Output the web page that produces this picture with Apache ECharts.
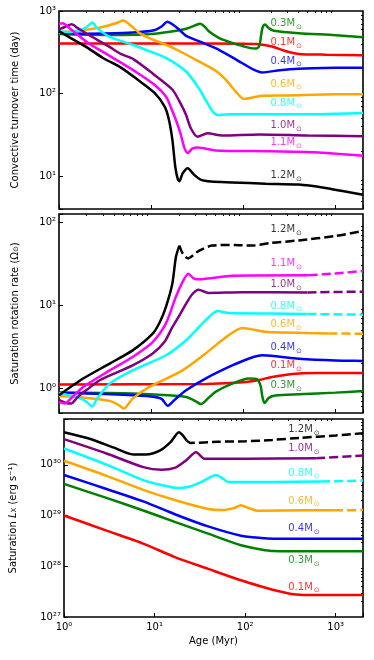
<!DOCTYPE html>
<html lang="en">
<head>
<meta charset="UTF-8">
<title>Saturation</title>
<script src="https://cdn.jsdelivr.net/npm/echarts@6/dist/echarts.min.js"></script>
</head>
<body style="margin:0">
<div id="main" style="width:374px;height:660px;"></div>
<script type="text/javascript">

// masses, in the order of the arrays below
const masses = ['0.1', '0.3', '0.4', '0.6', '0.8', '1.0', '1.1', '1.2'];
const colors = ['#ff0000', '#008000', '#0000ff', '#ffa500', '#00ffff', '#800080', '#ff00ff', '#000000'];

// top panel: convective turnover time (day) vs age (Myr)
const tau01 = [[1,405],[20,405],[100,402],[140,398],[200,375],[280,330],[400,302],[800,296],[2000,292]];
const tau03 = [[1,525],[2,515],[5,512],[10,525],[16,560],[24,610],[30,670],[34,700],[38,650],[43,560],[55,470],[76,410],[100,375],[120,355],[140,352],[150,380],[157,520],[163,640],[172,685],[190,620],[215,575],[400,537],[1000,510],[2000,481]];
const tau04 = [[1,545],[2,530],[5,540],[8,560],[11,590],[13,650],[15,740],[17,690],[20,600],[24,500],[35,420],[50,355],[70,290],[98,233],[130,195],[161,180],[250,192],[400,200],[1000,205],[2000,206]];
const tau06 = [[1,550],[2.16,600],[3.27,658],[4.3,720],[5,765],[5.7,700],[7.5,540],[10,460],[14.5,390],[20,330],[33,245],[50,190],[65,147],[83,106],[102,86],[130,90],[161,94],[300,95],[1000,98],[2000,98]];
const tau08 = [[1,565],[1.4,555],[1.7,585],[2,640],[2.3,725],[2.6,620],[3.5,490],[6.3,390],[10,320],[14.5,270],[24,185],[33,116],[39,84],[46,62],[53,55],[70,56],[150,56],[400,56],[1000,57],[2000,58]];
const tau10 = [[1,600],[1.2,650],[1.37,690],[1.6,620],[2,530],[3.5,370],[4.75,300],[6.3,265],[10.4,175],[17,112],[21,75],[24,55],[27,38],[32,30],[41,33],[60,31],[150,32],[500,31],[2000,30.5]];
const tau11 = [[1,700],[1.1,710],[1.3,620],[2.07,410],[3,320],[4.75,235],[7,180],[10.9,128],[14.5,92],[16.5,67],[19,45],[21,32],[23,22],[25,19.1],[28,21.5],[32,22.2],[50,20.5],[200,20],[600,19.5],[2000,17.7]];
const tau12 = [[1,570],[1.3,480],[2.07,355],[3,270],[4.75,205],[7,150],[10.9,102],[14,70],[15.5,50],[17,28],[18.3,13],[19.5,9.2],[20.3,8.7],[22,10.8],[25,12.5],[29,10.5],[35,9.0],[45,8.6],[76,8.4],[175,8.1],[400,7.9],[780,7.2],[1200,6.6],[2000,5.95]];

// middle panel: saturation rotation rate (solar units)
const rot01 = [[1,1.1],[40,1.12],[100,1.17],[148,1.25],[200,1.35],[339,1.48],[600,1.52],[2000,1.52]];
const rot03 = [[1,0.88],[3,0.87],[6.3,0.86],[15,0.82],[24,0.78],[30,0.7],[34.7,0.64],[42,0.76],[50,0.9],[76,1.13],[115,1.30],[142,1.27],[155,1.05],[161,0.8],[170,0.66],[190,0.76],[224,0.81],[400,0.84],[1000,0.88],[2000,0.92]];
const rot04 = [[1,0.88],[2,0.86],[5,0.83],[10,0.79],[13,0.74],[15.2,0.61],[18,0.72],[24,0.94],[39,1.30],[76,1.87],[120,2.3],[161,2.48],[250,2.38],[400,2.26],[1000,2.15],[1640,2.13],[2000,2.12]];
const rot06 = [[1,0.80],[2,0.76],[3.55,0.70],[4.5,0.62],[5.08,0.565],[6.3,0.745],[9.6,1.03],[22,1.63],[39,2.6],[65,4.1],[98,5.28],[175,4.75],[500,4.6],[845,4.55],[2000,4.5]];
const rot08 = [[1,0.87],[1.7,0.75],[2.0,0.68],[2.29,0.60],[2.6,0.75],[3.55,1.13],[6.3,1.63],[14.5,2.48],[24,3.76],[39,6.55],[52.6,8.5],[70,8.0],[200,7.9],[500,7.8],[2000,7.66]];
const rot10 = [[1,0.72],[1.2,0.66],[1.35,0.65],[1.6,0.78],[2,0.95],[2.77,1.24],[6.3,1.87],[10.4,2.6],[14,3.6],[17,5.4],[21,8],[24,10.4],[28,13.5],[32.7,15.3],[42,14],[100,14.3],[500,14.2],[2000,14.5]];
const rot11 = [[1,0.68],[1.15,0.65],[1.4,0.78],[1.83,1.03],[3.55,1.63],[6.3,2.37],[10.4,3.58],[14.5,6.0],[18.6,12.6],[22,19],[25.3,23.9],[29,21],[33,20.4],[76,22.5],[515,22.8],[1000,24],[2000,25.7]];
const rot12 = [[1,0.82],[1.83,1.30],[3.55,1.97],[6.3,2.84],[10.4,4.52],[12.5,6.3],[14.5,9.5],[17,18],[18.6,38],[20.3,52],[22,42],[25,36.5],[33,45],[46,52],[80,53],[125,52],[200,56],[400,60],[1000,68],[2000,78]];

// bottom panel: saturation Lx (erg/s)
const lx01 = [[1,1.0e29],[3,5.0e28],[7.5,2.8e28],[17,1.5e28],[39,8.9e27],[90,5.3e27],[150,4.0e27],[206,3.4e27],[339,2.8e27],[500,2.7e27],[2000,2.7e27]];
const lx03 = [[1,4.2e29],[3,2.2e29],[7.5,1.26e29],[17,7.4e28],[39,4.4e28],[90,2.6e28],[150,2.15e28],[206,2.0e28],[500,1.97e28],[2000,1.97e28]];
const lx04 = [[1,6.3e29],[3,3.3e29],[7.5,1.9e29],[17,1.05e29],[39,6.1e28],[90,4.0e28],[150,3.6e28],[206,3.5e28],[2000,3.5e28]];
const lx06 = [[1,1.2e30],[3,6.0e29],[7.5,3.2e29],[17,2.0e29],[39,1.35e29],[55,1.28e29],[75,1.4e29],[90,1.6e29],[110,1.4e29],[136,1.25e29],[500,1.27e29],[960,1.27e29],[2000,1.28e29]];
const lx08 = [[1,2.1e30],[3,1.0e30],[7.5,5.0e29],[12,4.0e29],[18,3.5e29],[24,3.7e29],[33,4.6e29],[48,6.3e29],[58,5.2e29],[65,4.6e29],[200,4.6e29],[690,4.7e29],[2000,4.9e29]];
const lx10 = [[1,3.2e30],[3,1.65e30],[7.5,9.0e29],[12,8.0e29],[17,8.8e29],[22,1.2e30],[28.7,1.77e30],[36,1.31e30],[100,1.32e30],[610,1.35e30],[2000,1.52e30]];
const lx12 = [[1,4.4e30],[2,3.2e30],[3.5,2.2e30],[5.8,1.6e30],[8,1.6e30],[11.4,1.9e30],[15,2.8e30],[18.6,4.4e30],[20.5,3.8e30],[22.6,3.0e30],[25,2.7e30],[50,2.85e30],[100,2.9e30],[200,3.1e30],[400,3.4e30],[1000,3.8e30],[2000,4.2e30]];

// age after which each curve is drawn dashed (null = solid all the way)
const rotDashFrom = [null, null, 1640, 845, 500, 500, 515, 20.3];
const lxDashFrom = [null, null, null, 960, 690, 610, null, 22.6];

// label placement in data units
const tauLabelAge = 198, rotLabelAge = 198, lxLabelAge = 299;
const tauLabelY = [414, 710, 248, 130, 76.6, 40.7, 25.7, 10.1];
const rotLabelY = [1.87, 1.08, 3.07, 5.8, 9.7, 17.7, 31.6, 81];
const lxLabelY = [3.9e27, 1.3e28, 5.5e28, 1.92e29, 6.9e29, 2.07e30, null, 4.96e30];

const tauData = [tau01, tau03, tau04, tau06, tau08, tau10, tau11, tau12];
const rotData = [rot01, rot03, rot04, rot06, rot08, rot10, rot11, rot12];
const lxData = [lx01, lx03, lx04, lx06, lx08, lx10, null, lx12];

const FONT = 'DejaVu Sans';
const supMap = {'0':'⁰','1':'¹','2':'²','3':'³','4':'⁴','5':'⁵','6':'⁶','7':'⁷','8':'⁸','9':'⁹','-':'⁻'};
function powLabel(v) {
    const e = Math.log10(v);
    const r = Math.round(e);
    if (Math.abs(e - r) > 1e-6) return '';
    return '10' + String(r).split('').map(c => supMap[c]).join('');
}
function minorValues(lo, hi) {
    const out = [];
    for (let k = Math.floor(Math.log10(lo)); k <= Math.ceil(Math.log10(hi)); k++) {
        for (let m = 2; m <= 9; m++) {
            const v = m * Math.pow(10, k);
            if (v > lo && v < hi) out.push(v);
        }
    }
    return out;
}

const grids = [
    { left: 59, right: 11, top: 11, height: 198 },
    { left: 59, right: 11, top: 214, height: 199 },
    { left: 59, right: 11, top: 419, height: 198 }
];
grids.forEach(g => { g.show = true; g.borderColor = '#000'; g.borderWidth = 1.6; });

const yRanges = [[4, 1000], [0.5, 125], [1e27, 8e30]];
const xRange = [1, 2000];

const xAxes = [], yAxes = [];
for (let i = 0; i < 3; i++) {
    xAxes.push({
        type: 'log', gridIndex: i, min: xRange[0], max: xRange[1],
        axisLine: { show: false }, splitLine: { show: false },
        axisTick: { inside: true, length: 4, lineStyle: { color: '#000' } },
        axisLabel: { show: i === 2, formatter: powLabel, color: '#000', fontSize: 10, fontFamily: FONT, margin: 5 },
        name: i === 2 ? 'Age (Myr)' : '', nameLocation: 'middle', nameGap: 19,
        nameTextStyle: { color: '#000', fontSize: 10, fontFamily: FONT }
    });
}
const yNames = [
    'Convective turnover time (day)',
    'Saturation rotation rate (Ω{s|⊙})',
    'Saturation {i|L}{s|X} (erg s⁻¹)'
];
const yGaps = [39, 39, 46];
for (let i = 0; i < 3; i++) {
    yAxes.push({
        type: 'log', gridIndex: i, min: yRanges[i][0], max: yRanges[i][1],
        axisLine: { show: false }, splitLine: { show: false },
        axisTick: { inside: true, length: 4, lineStyle: { color: '#000' } },
        axisLabel: { formatter: powLabel, color: '#000', fontSize: 10, fontFamily: FONT, margin: 3 },
        name: yNames[i], nameLocation: 'middle', nameGap: yGaps[i],
        nameTextStyle: {
            color: '#000', fontSize: 10, fontFamily: FONT,
            rich: {
                s: { fontSize: 7, color: '#000', fontFamily: FONT, verticalAlign: 'bottom' },
                i: { fontSize: 10, color: '#000', fontFamily: FONT, fontStyle: 'italic' }
            }
        }
    });
}
// minor ticks on their own axes
for (let i = 0; i < 3; i++) {
    xAxes.push({
        type: 'log', gridIndex: i, min: xRange[0], max: xRange[1],
        axisLine: { show: false }, splitLine: { show: false }, axisLabel: { show: false },
        axisTick: { inside: true, length: 2, customValues: minorValues(xRange[0], xRange[1]), lineStyle: { color: '#000' } }
    });
    yAxes.push({
        type: 'log', gridIndex: i, min: yRanges[i][0], max: yRanges[i][1],
        axisLine: { show: false }, splitLine: { show: false }, axisLabel: { show: false },
        axisTick: { inside: true, length: 2, customValues: minorValues(yRanges[i][0], yRanges[i][1]), lineStyle: { color: '#000' } }
    });
}

const series = [];
function lineSeries(gi, data, color, dashed) {
    return {
        type: 'line', xAxisIndex: gi, yAxisIndex: gi, data: data,
        showSymbol: false, smooth: 0.25, silent: true,
        lineStyle: { color: color, width: 2.5, type: dashed ? [9, 4] : 'solid' },
        z: 3
    };
}
function addPanel(gi, arrs, dashFrom) {
    arrs.forEach((arr, i) => {
        if (!arr) return;
        const d = dashFrom ? dashFrom[i] : null;
        if (d == null) {
            series.push(lineSeries(gi, arr, colors[i], false));
        } else {
            series.push(lineSeries(gi, arr.filter(p => p[0] <= d), colors[i], false));
            series.push(lineSeries(gi, arr.filter(p => p[0] >= d), colors[i], true));
        }
    });
}
function addLabels(gi, age, ys) {
    ys.forEach((y, i) => {
        if (y == null) return;
        series.push({
            type: 'scatter', xAxisIndex: gi, yAxisIndex: gi, symbolSize: 0, silent: true,
            data: [{ value: [age, y], name: masses[i] }],
            label: {
                show: true, position: 'right', distance: 0,
                formatter: p => p.name + 'M{s|⊙}',
                color: colors[i], fontSize: 10, fontFamily: FONT, lineHeight: 14,
                rich: { s: { fontSize: 7, color: colors[i], fontFamily: FONT, verticalAlign: 'bottom', lineHeight: 10, padding: [0, 0, 0, 1] } }
            }
        });
    });
}

addPanel(0, tauData, null);
addPanel(1, rotData, rotDashFrom);
addPanel(2, lxData, lxDashFrom);
addLabels(0, tauLabelAge, tauLabelY);
addLabels(1, rotLabelAge, rotLabelY);
addLabels(2, lxLabelAge, lxLabelY);

const chart = echarts.init(document.getElementById('main'));
chart.setOption({
    animation: false,
    textStyle: { fontFamily: FONT },
    grid: grids,
    xAxis: xAxes,
    yAxis: yAxes,
    series: series
});

</script>
</body>
</html>
